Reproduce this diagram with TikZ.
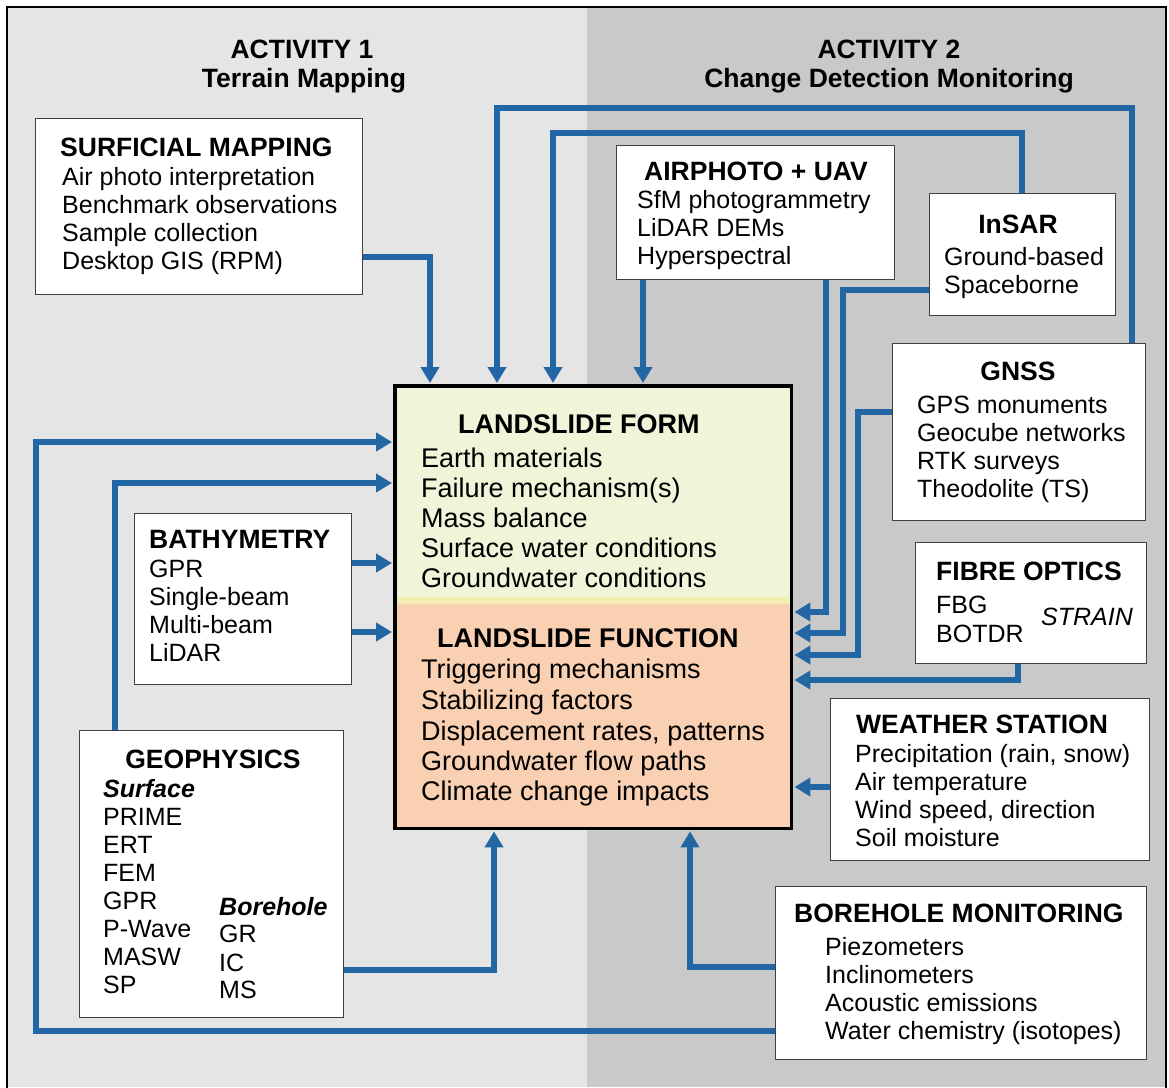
\documentclass[tikz,border=0pt]{standalone}
\usepackage{fontspec}
\setmainfont{Liberation Sans}
\usetikzlibrary{arrows.meta}
\definecolor{bgL}{HTML}{E5E5E5}
\definecolor{bgR}{HTML}{C9C9C9}
\definecolor{formC}{HTML}{F0F5DA}
\definecolor{funcC}{HTML}{F9D0B2}
\definecolor{stripC}{HTML}{F4EDB2}
\definecolor{lineC}{HTML}{2366A4}
\begin{document}
\begin{tikzpicture}[x=1pt,y=-1pt,
 box/.style={draw=black!75, line width=1.2pt, fill=white, inner sep=0pt, anchor=north west},
 ttl/.style={font=\fontsize{26.5}{30}\selectfont\bfseries, inner sep=0pt, anchor=base},
 hd/.style={font=\fontsize{26.5}{30}\selectfont\bfseries, inner sep=0pt, anchor=base west},
 hdc/.style={font=\fontsize{26.5}{30}\selectfont\bfseries, inner sep=0pt, anchor=base},
 mh/.style={font=\fontsize{27}{30}\selectfont\bfseries, inner sep=0pt, anchor=base west},
 tx/.style={font=\fontsize{25}{28}\selectfont, inner sep=0pt, anchor=base west},
 bi/.style={font=\fontsize{25}{28}\selectfont\bfseries\itshape, inner sep=0pt, anchor=base west},
 mt/.style={font=\fontsize{27}{30}\selectfont, inner sep=0pt, anchor=base west},
 conn/.style={draw=lineC, line width=5.5pt, -{Triangle[width=18pt,length=16pt]}, shorten >=3pt},
]
\useasboundingbox (0,0) rectangle (1169,1087);
% backgrounds
\fill[bgL] (8,8) rectangle (587,1087);
\fill[bgR] (587,8) rectangle (1166,1087);
\draw[line width=2.5pt] (7,1100) -- (7,7) -- (1166,7) -- (1166,1100);

% titles
\node[ttl] (t1a) at (302,58) {ACTIVITY 1};
\node[ttl] (t1b) at (304,87) {Terrain Mapping};
\node[ttl] (t2a) at (889,58) {ACTIVITY 2};
\node[ttl] (t2b) at (889,87) {Change Detection Monitoring};

% main box fills
\fill[formC] (395,386) rectangle (791,600);
\fill[funcC] (395,600) rectangle (791,828);
\fill[stripC] (395,597) rectangle (791,604);

% boxes
\node[box, minimum width=327pt, minimum height=176pt] (surf) at (35,118) {};
\node[box, minimum width=278pt, minimum height=134pt] (air) at (616,145) {};
\node[box, minimum width=186pt, minimum height=122pt] (insar) at (929,193) {};
\node[box, minimum width=253pt, minimum height=177pt] (gnss) at (892,343) {};
\node[box, minimum width=231pt, minimum height=121pt] (fibre) at (915,542) {};
\node[box, minimum width=319pt, minimum height=162pt] (weather) at (830,698) {};
\node[box, minimum width=371pt, minimum height=173pt] (bore) at (775,886) {};
\node[box, minimum width=217pt, minimum height=171pt] (bathy) at (134,513) {};
\node[box, minimum width=264pt, minimum height=287pt] (geo) at (79,730) {};
\node[draw=none, minimum width=396pt, minimum height=442pt, anchor=north west, inner sep=0pt] (main) at (395,386) {};

% connectors
\draw[conn] (surf.east |- 0,257) -| (main.north -| 430,0);
\draw[conn] (gnss.north -| 1132,0) |- (497,108) -- (main.north -| 497,0);
\draw[conn] (insar.north -| 1022,0) |- (553,133) -- (main.north -| 553,0);
\draw[conn] (air.south -| 643,0) -- (main.north -| 643,0);
\draw[conn] (air.south -| 826,0) |- (main.east |- 0,612);
\draw[conn] (insar.west |- 0,290) -| (843,633) -- (main.east |- 0,633);
\draw[conn] (gnss.west |- 0,412) -| (858,655) -- (main.east |- 0,655);
\draw[conn] (fibre.south -| 1018,0) |- (main.east |- 0,680);
\draw[conn] (weather.west |- 0,787) -- (main.east |- 0,787);
\draw[conn] (bore.west |- 0,967) -| (main.south -| 690,0);
\draw[conn] (bore.west |- 0,1031) -| (36,442) -- (main.west |- 0,442);
\draw[conn] (geo.north -| 115,0) |- (main.west |- 0,483);
\draw[conn] (bathy.east |- 0,563) -- (main.west |- 0,563);
\draw[conn] (bathy.east |- 0,632) -- (main.west |- 0,632);
\draw[conn] (geo.east |- 0,970) -| (main.south -| 494,0);

% main border
\draw[line width=3.5pt] (main.north west) rectangle (main.south east);

% surficial
\node[hd] (sm0) at (60,156) {SURFICIAL MAPPING};
\node[tx] (sm1) at (62,185) {Air photo interpretation};
\node[tx] (sm2) at (62,213) {Benchmark observations};
\node[tx] (sm3) at (62,241) {Sample collection};
\node[tx] (sm4) at (62,269) {Desktop GIS (RPM)};
% airphoto
\node[hd] (ap0) at (644,180) {AIRPHOTO + UAV};
\node[tx] (ap1) at (637,208) {SfM photogrammetry};
\node[tx] (ap2) at (637,236) {LiDAR DEMs};
\node[tx] (ap3) at (637,264) {Hyperspectral};
% insar
\node[hdc] (is0) at (1018,233) {InSAR};
\node[tx] (is1) at (944,265) {Ground-based};
\node[tx] (is2) at (944,293) {Spaceborne};
% gnss
\node[hdc] (gn0) at (1018,380) {GNSS};
\node[tx] (gn1) at (917,413) {GPS monuments};
\node[tx] (gn2) at (917,441) {Geocube networks};
\node[tx] (gn3) at (917,469) {RTK surveys};
\node[tx] (gn4) at (917,497) {Theodolite (TS)};
% fibre
\node[hd] (fo0) at (936,580) {FIBRE OPTICS};
\node[tx] (fo1) at (936,613) {FBG};
\node[tx] (fo2) at (936,642) {BOTDR};
\node[tx, font=\fontsize{25}{28}\selectfont\itshape] (fo3) at (1041,625) {STRAIN};
% weather
\node[hd] (ws0) at (856,733) {WEATHER STATION};
\node[tx] (ws1) at (855,762) {Precipitation (rain, snow)};
\node[tx] (ws2) at (855,790) {Air temperature};
\node[tx] (ws3) at (855,818) {Wind speed, direction};
\node[tx] (ws4) at (855,846) {Soil moisture};
% borehole
\node[hd] (bm0) at (794,922) {BOREHOLE MONITORING};
\node[tx] (bm1) at (825,955) {Piezometers};
\node[tx] (bm2) at (825,983) {Inclinometers};
\node[tx] (bm3) at (825,1011) {Acoustic emissions};
\node[tx] (bm4) at (825,1039) {Water chemistry (isotopes)};
% main
\node[mh] (lf0) at (458,433) {LANDSLIDE FORM};
\node[mt] (lf1) at (421,467) {Earth materials};
\node[mt] (lf2) at (421,497) {Failure mechanism(s)};
\node[mt] (lf3) at (421,527) {Mass balance};
\node[mt] (lf4) at (421,557) {Surface water conditions};
\node[mt] (lf5) at (421,587) {Groundwater conditions};
\node[mh] (lu0) at (437,647) {LANDSLIDE FUNCTION};
\node[mt] (lu1) at (421,678) {Triggering mechanisms};
\node[mt] (lu2) at (421,709) {Stabilizing factors};
\node[mt] (lu3) at (421,740) {Displacement rates, patterns};
\node[mt] (lu4) at (421,770) {Groundwater flow paths};
\node[mt] (lu5) at (421,800) {Climate change impacts};
% bathymetry
\node[hd] (ba0) at (149,548) {BATHYMETRY};
\node[tx] (ba1) at (149,577) {GPR};
\node[tx] (ba2) at (149,605) {Single-beam};
\node[tx] (ba3) at (149,633) {Multi-beam};
\node[tx] (ba4) at (149,661) {LiDAR};
% geophysics
\node[hdc] (ge0) at (213,768) {GEOPHYSICS};
\node[bi] (ge1) at (103,797) {Surface};
\node[tx] (ge2) at (103,825) {PRIME};
\node[tx] (ge3) at (103,853) {ERT};
\node[tx] (ge4) at (103,881) {FEM};
\node[tx] (ge5) at (103,909) {GPR};
\node[tx] (ge6) at (103,937) {P-Wave};
\node[tx] (ge7) at (103,965) {MASW};
\node[tx] (ge8) at (103,993) {SP};
\node[bi] (gb0) at (219,915) {Borehole};
\node[tx] (gb1) at (219,942) {GR};
\node[tx] (gb2) at (219,971) {IC};
\node[tx] (gb3) at (219,998) {MS};
\end{tikzpicture}
\end{document}
